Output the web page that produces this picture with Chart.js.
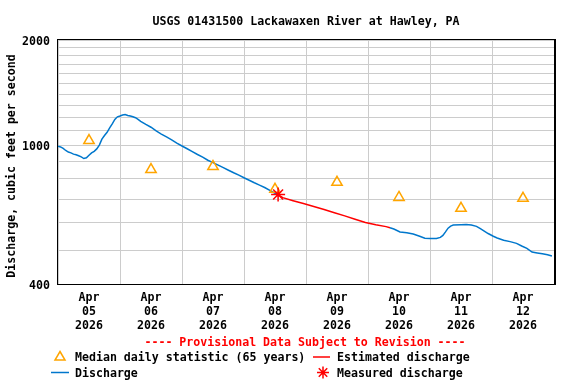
<!DOCTYPE html>
<html>
<head>
<meta charset="utf-8">
<script src="https://cdn.jsdelivr.net/npm/chart.js@4"></script>
<style>
  body { margin: 0; background: #fff; }
  #wrap { width: 576px; height: 384px; }
</style>
</head>
<body>
<div id="wrap"><canvas id="myChart" width="576" height="384"></canvas></div>
<script>
//----DATA (x = hours since Apr 05 2026 00:00)----
const titleText = 'USGS 01431500 Lackawaxen River at Hawley, PA';
const dayLabels = ['05', '06', '07', '08', '09', '10', '11', '12'];
const monthLabel = 'Apr';
const yearLabel = '2026';
const yTickLabels = [400, 1000, 2000];

// discharge, before the estimated period
const dischargeHours1 = [0,1,2,3,4,5,6,7,8,9,10,11,12,13,14,15,16,17,18,19,20,21,22,23,24,25,26,27,28,29,30,31,32,33,34,36,38,40,42,44,46,48,50,52,54,56,58,60,62,64,66,68,70,72,74,76,78,80,82,84,85];
const dischargeCfs1 = [992,988,978,965,955,950,942,938,932,925,915,920,935,950,960,975,1000,1040,1065,1088,1120,1150,1185,1205,1212,1220,1224,1216,1212,1206,1198,1185,1170,1158,1146,1125,1098,1075,1055,1035,1013,994,976,958,940,924,905,891,876,862,847,833,820,806,793,780,768,756,742,728,722];

// estimated discharge
const estimatedHours = [85,87,91,95,99,103,107,111,115,119,123,127,128.5];
const estimatedCfs = [722,707,693,680,667,654,640,627,613,600,591,584,580];

// discharge, after the estimated period
const dischargeHours2 = [128.5,130,132.4,135,137.5,140,142,144,146.5,148,149,150,151,152,153,156,158,160,162,163.5,165,166.5,168.5,170,172.5,175,177.5,179.5,181.5,183.5,185.5,187.5,189.5,191.2];
const dischargeCfs2 = [580,575,564,561,556,548,541,540,540,544,551,564,578,586,590,591,592,590,585,576,567,558,548,542,534,529,523,514,506,494,491,488,485,481];

// median daily statistic (65 years), at noon of each day
const medianHours = [12,36,60,84,108,132,156,180];
const medianCfs = [1030,851,868,747,782,708,659,704];

// measured discharge
const measuredHours = [85.2];
const measuredCfs = [722];

const FONT = 'DejaVu Sans Mono';
const BLUE = '#0077cc';
const RED = '#ff0000';
const ORANGE = '#ffa500';

const toPts = (xs, ys) => xs.map((x, i) => ({x: x, y: ys[i]}));

const dischargeData = toPts(dischargeHours1, dischargeCfs1)
  .concat([{x: 110, y: null}])
  .concat(toPts(dischargeHours2, dischargeCfs2));

//----PLUGINS----
const decorations = {
  id: 'decorations',
  afterDraw(chart) {
    const { ctx, chartArea: { top, bottom, left, right }, scales: { y } } = chart;
    ctx.save();
    // frame (right side a bit heavier, like the original)
    ctx.strokeStyle = '#000';
    ctx.lineWidth = 1;
    ctx.strokeRect(left - 0.5, top - 0.5, right - left + 1, bottom - top + 1);
    ctx.beginPath(); ctx.moveTo(right + 1.5, top - 1); ctx.lineTo(right + 1.5, bottom + 1); ctx.stroke();
    ctx.fillStyle = '#000';
    ctx.font = 'bold 11.6px "' + FONT + '"';
    ctx.textBaseline = 'middle';
    // y tick labels
    ctx.textAlign = 'right';
    yTickLabels.forEach(v => ctx.fillText(String(v), left - 8, y.getPixelForValue(v) + 1.5));
    // title
    ctx.textAlign = 'center';
    ctx.fillText(titleText, 306, 22);
    // y axis title
    ctx.save();
    ctx.translate(12, 166);
    ctx.rotate(-Math.PI / 2);
    ctx.fillText('Discharge, cubic feet per second', 0, 0);
    ctx.restore();
    // provisional note
    ctx.fillStyle = RED;
    ctx.fillText('---- Provisional Data Subject to Revision ----', 305, 343);
    // legend
    ctx.textAlign = 'left';
    ctx.fillStyle = '#000';
    ctx.fillText('Median daily statistic (65 years)', 75, 358);
    ctx.fillText('Estimated discharge', 337, 358);
    ctx.fillText('Discharge', 75, 374);
    ctx.fillText('Measured discharge', 337, 374);
    // legend symbols
    ctx.lineWidth = 1.5;
    ctx.strokeStyle = ORANGE;
    ctx.beginPath();
    ctx.moveTo(60, 351.5); ctx.lineTo(65, 360); ctx.lineTo(55, 360); ctx.closePath();
    ctx.stroke();
    ctx.strokeStyle = RED;
    ctx.beginPath(); ctx.moveTo(313, 357); ctx.lineTo(330, 357); ctx.stroke();
    ctx.strokeStyle = BLUE;
    ctx.beginPath(); ctx.moveTo(51, 372.5); ctx.lineTo(69, 372.5); ctx.stroke();
    ctx.strokeStyle = RED;
    ctx.beginPath();
    for (let a = 0; a < 4; a++) {
      const ang = a * Math.PI / 4;
      ctx.moveTo(323 - 6 * Math.cos(ang), 372.5 - 6 * Math.sin(ang));
      ctx.lineTo(323 + 6 * Math.cos(ang), 372.5 + 6 * Math.sin(ang));
    }
    ctx.stroke();
    ctx.restore();
  }
};

//----CONFIG----
const config = {
  type: 'line',
  data: {
    datasets: [
      {
        label: 'Measured discharge',
        data: toPts(measuredHours, measuredCfs),
        showLine: false,
        pointStyle: 'star',
        pointRadius: 7,
        borderColor: RED,
        borderWidth: 1.5,
        order: 0
      },
      {
        label: 'Median daily statistic (65 years)',
        data: toPts(medianHours, medianCfs),
        showLine: false,
        pointStyle: 'triangle',
        pointRadius: 6,
        borderColor: ORANGE,
        backgroundColor: 'rgba(0,0,0,0)',
        borderWidth: 1.5,
        order: 1
      },
      {
        label: 'Estimated discharge',
        data: toPts(estimatedHours, estimatedCfs),
        borderColor: RED,
        borderWidth: 1.5,
        pointRadius: 0,
        order: 2
      },
      {
        label: 'Discharge',
        data: dischargeData,
        borderColor: BLUE,
        borderWidth: 1.5,
        pointRadius: 0,
        spanGaps: false,
        order: 3
      }
    ]
  },
  options: {
    responsive: false,
    animation: false,
    layout: { padding: { left: 0, right: 22, top: 40, bottom: 0 } },
    scales: {
      x: {
        type: 'linear',
        min: 0,
        max: 192,
        afterBuildTicks(scale) {
          const t = [];
          for (let v = 0; v <= 192; v += 12) t.push({ value: v });
          scale.ticks = t;
        },
        afterFit(scale) { scale.height = 100; },
        border: { display: false },
        grid: {
          drawTicks: false,
          color: (c) => (c.tick && c.tick.value % 24 === 0) ? '#cccccc' : 'rgba(0,0,0,0)'
        },
        ticks: {
          autoSkip: false,
          maxRotation: 0,
          padding: 7,
          color: '#000',
          font: { family: FONT, size: 11.6, weight: 'bold', lineHeight: '14px' },
          callback: (v) => (v % 24 === 12) ? [monthLabel, dayLabels[(v - 12) / 24], yearLabel] : ''
        }
      },
      y: {
        type: 'logarithmic',
        min: 400,
        max: 2000,
        afterBuildTicks(scale) {
          const t = [];
          for (let v = 400; v <= 2000; v += 100) t.push({ value: v });
          scale.ticks = t;
        },
        afterFit(scale) { scale.width = 58; },
        border: { display: false },
        grid: { drawTicks: false, color: '#cccccc' },
        ticks: {
          autoSkip: false,
          padding: 8,
          callback: () => ''
        }
      }
    },
    plugins: {
      legend: { display: false },
      tooltip: { enabled: false }
    }
  },
  plugins: [decorations]
};

const myChart = new Chart(document.getElementById('myChart'), config);
</script>
</body>
</html>
